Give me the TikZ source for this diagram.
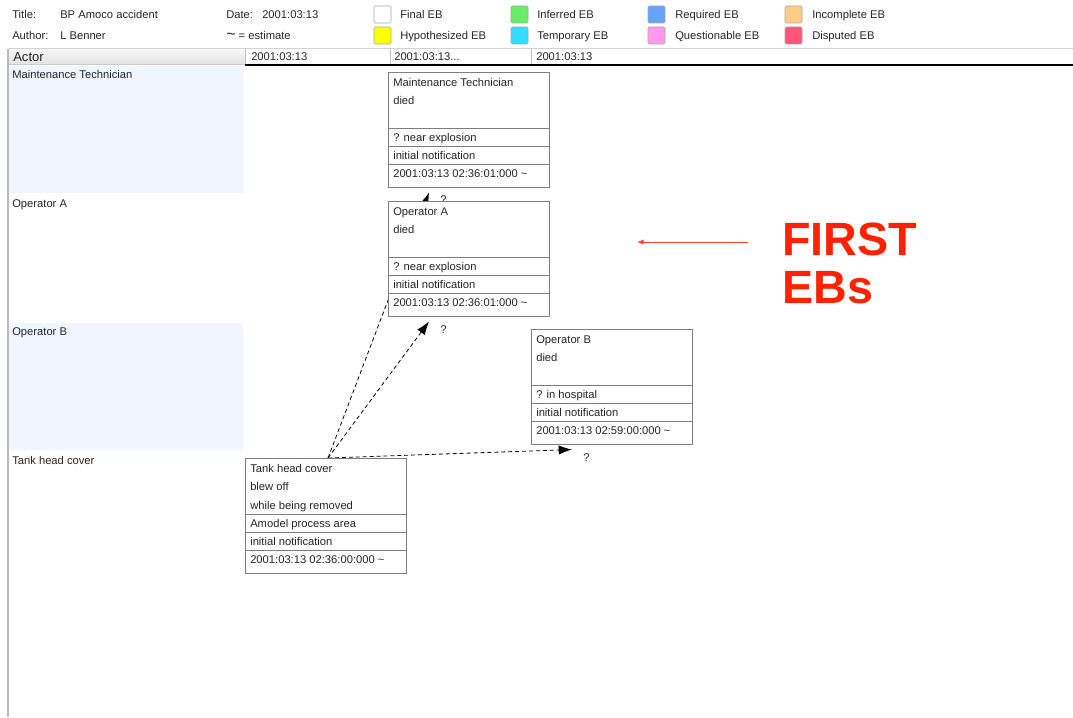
\documentclass[tikz,border=0pt]{standalone}
\usepackage{fontspec}
\setmainfont{Liberation Sans}
\usetikzlibrary{arrows.meta,calc,backgrounds}

\definecolor{lanefill}{RGB}{240,245,255}
\definecolor{ebgreen}{RGB}{102,238,102}
\definecolor{ebcyan}{RGB}{51,221,255}
\definecolor{ebblue}{RGB}{102,163,255}
\definecolor{eborange}{RGB}{255,204,136}
\definecolor{ebyellow}{RGB}{255,255,0}
\definecolor{ebpink}{RGB}{255,153,238}
\definecolor{ebred}{RGB}{255,85,119}
\definecolor{firstred}{RGB}{255,34,0}
\definecolor{boxgray}{RGB}{125,125,125}

\tikzset{
  txt/.style={anchor=west, inner sep=0pt, font=\fontsize{8.4}{10}\selectfont,
    text height=6pt, text depth=0pt, text=black!85},
  ebnode/.style={draw=boxgray, fill=white, anchor=north west,
    minimum width=120.75pt, minimum height=86.25pt, inner sep=0pt},
  swatch/.style={draw=gray!70, rounded corners=1pt},
  link/.style={dash pattern=on 3pt off 2.2pt, line width=0.6pt,
    -{Latex[length=10pt,width=7pt]}},
}

% one event block: name, x, y, actor, action, descriptor, location, source, time
\newcommand{\ebbox}[9]{%
  \node[ebnode] (#1) at (#2,#3) {};
  \draw[boxgray] ($(#1.north west)+(0,56)$) -- ($(#1.north east)+(0,56)$);
  \draw[boxgray] ($(#1.north west)+(0,74)$) -- ($(#1.north east)+(0,74)$);
  \draw[boxgray] ($(#1.north west)+(0,92)$) -- ($(#1.north east)+(0,92)$);
  \node[txt] (#1-who) at ($(#1.north west)+(5,10)$) {#4};
  \node[txt] (#1-did) at ($(#1.north west)+(5,28.5)$) {#5};
  \node[txt] (#1-how) at ($(#1.north west)+(5,47)$) {#6};
  \node[txt] (#1-where) at ($(#1.north west)+(5,65)$) {#7};
  \node[txt] (#1-src) at ($(#1.north west)+(5,83)$) {#8};
  \node[txt] (#1-when) at ($(#1.north west)+(5,101.5)$) {#9};
}

\begin{document}
\begin{tikzpicture}[x=0.75pt, y=-0.75pt]
  \useasboundingbox (0,0) rectangle (1073,717);

  % header info
  \node[txt] (titlekey) at (12,14.5) {Title:};
  \node[txt] (titleval) at (60,14.5) {BP Amoco accident};
  \node[txt] (authorkey) at (12,35.5) {Author:};
  \node[txt] (authorval) at (60,35.5) {L Benner};
  \node[txt] (datekey) at (226,14.5) {Date:};
  \node[txt] (dateval) at (262,14.5) {2001:03:13};
  \node[txt] (estimate) at (226,35.5) {{\large\textasciitilde} = estimate};

  % legend
  \draw[swatch, fill=white] (374,6) rectangle (391,23);
  \node[txt] (lgfinal) at (400,14.5) {Final EB};
  \draw[swatch, fill=ebgreen] (511,6) rectangle (528,23);
  \node[txt] (lginferred) at (537,14.5) {Inferred EB};
  \draw[swatch, fill=ebblue] (648,6) rectangle (665,23);
  \node[txt] (lgrequired) at (675,14.5) {Required EB};
  \draw[swatch, fill=eborange] (785,6) rectangle (802,23);
  \node[txt] (lgincomplete) at (812,14.5) {Incomplete EB};
  \draw[swatch, fill=ebyellow] (374,27) rectangle (391,44);
  \node[txt] (lghypo) at (400,35.5) {Hypothesized EB};
  \draw[swatch, fill=ebcyan] (511,27) rectangle (528,44);
  \node[txt] (lgtemp) at (537,35.5) {Temporary EB};
  \draw[swatch, fill=ebpink] (648,27) rectangle (665,44);
  \node[txt] (lgquest) at (675,35.5) {Questionable EB};
  \draw[swatch, fill=ebred] (785,27) rectangle (802,44);
  \node[txt] (lgdisputed) at (812,35.5) {Disputed EB};

  % column header
  \shade[top color=gray!6, bottom color=gray!22] (8,49) rectangle (245,64);
  \draw[gray!35] (8,48) -- (1073,48);
  \draw[gray!50] (245,49) -- (245,64);
  \draw[gray!50] (390,49) -- (390,64);
  \draw[gray!50] (531,49) -- (531,64);
  \draw[gray!40] (8,64.5) -- (245,64.5);
  \draw[black, line width=1.1pt] (245,65) -- (1073,65);
  \node[txt, font=\fontsize{9.8}{11}\selectfont, text height=7pt] (actorhead) at (13,56.5) {Actor};
  \node[txt] (colone) at (251,56.5) {2001:03:13};
  \node[txt] (coltwo) at (394,56.5) {2001:03:13...};
  \node[txt] (colthree) at (536,56.5) {2001:03:13};

  % actor lanes
  \fill[lanefill] (9,66) rectangle (243,193);
  \fill[lanefill] (9,323) rectangle (243,450);
  \draw[gray!55, line width=1pt] (8,49) -- (8,717);
  \node[txt] (lanemt) at (12,74.5) {Maintenance Technician};
  \node[txt] (laneopa) at (12,203.5) {Operator A};
  \node[txt] (laneopb) at (12,331.5) {Operator B};
  \node[txt] (lanetank) at (12,460.5) {Tank head cover};

  % event blocks
  \ebbox{mt}{388}{72}{Maintenance Technician}{died}{}{? near explosion}{initial notification}{2001:03:13 02:36:01:000 \textasciitilde}
  \ebbox{opa}{388}{201}{Operator A}{died}{}{? near explosion}{initial notification}{2001:03:13 02:36:01:000 \textasciitilde}
  \ebbox{opb}{531}{329}{Operator B}{died}{}{? in hospital}{initial notification}{2001:03:13 02:59:00:000 \textasciitilde}
  \ebbox{tank}{245}{458}{Tank head cover}{blew off}{while being removed}{Amodel process area}{initial notification}{2001:03:13 02:36:00:000 \textasciitilde}

  % links, behind the blocks
  \begin{scope}[on background layer]
    \coordinate (tankout) at ($(tank.north west)+(83,0)$);
    \coordinate (mtin) at ($(mt.south west)+(41,5)$);
    \coordinate (opain) at ($(opa.south west)+(41,5)$);
    \coordinate (opbin) at ($(opb.south west)+(41,5)$);
    \draw[link] (tankout) -- (mtin);
    \draw[link] (tankout) -- (opain);
    \draw[link] (tankout) -- (opbin);
    \node[txt] (qmt) at ($(mt.south west)+(52,12)$) {?};
    \node[txt] (qopa) at ($(opa.south west)+(52,13)$) {?};
    \node[txt] (qopb) at ($(opb.south west)+(52,13)$) {?};
  \end{scope}

  % note
  \node[anchor=north west, inner sep=0pt, align=left, text=firstred,
    font=\fontsize{35}{36}\bfseries] (firsteb) at (782,223) {FIRST\\EBs};
  \coordinate (redtail) at (748,242);
  \coordinate (redtip) at (637,242);
  \draw[firstred!85, line width=0.7pt, -{Latex[length=5pt,width=4pt]}] (redtail) -- (redtip);
\end{tikzpicture}
\end{document}
